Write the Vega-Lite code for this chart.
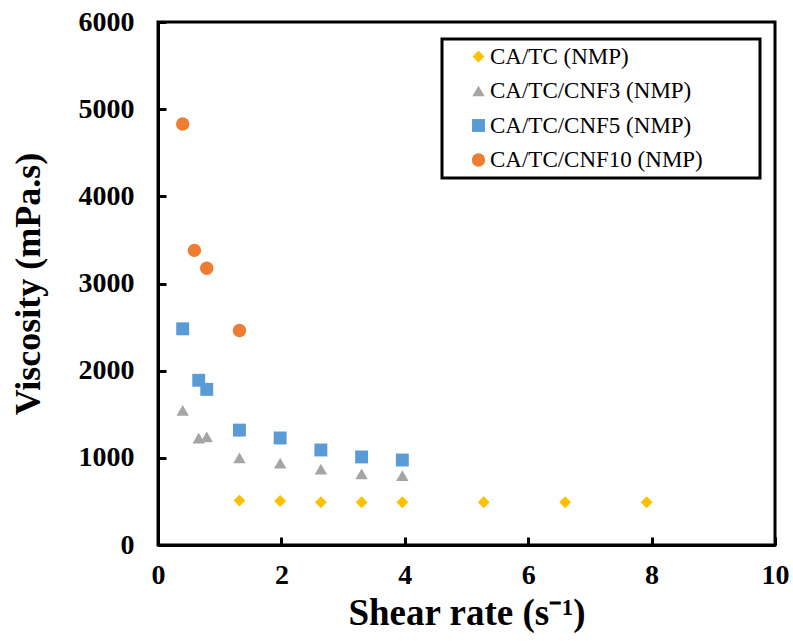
{
  "$schema": "https://vega.github.io/schema/vega-lite/v6.json",
  "width": 617,
  "height": 523,
  "autosize": {"type": "none"},
  "padding": {"left": 158, "top": 22, "right": 18, "bottom": 96},
  "background": "white",
  "config": {
    "view": {"stroke": "black", "strokeWidth": 3},
    "font": "Liberation Serif",
    "legend": {"strokeWidth": 3}
  },
  "data": {
    "values": [
      {"series": "CA/TC (NMP)", "rate": 1.32, "visc": 510},
      {"series": "CA/TC (NMP)", "rate": 1.98, "visc": 505},
      {"series": "CA/TC (NMP)", "rate": 2.64, "visc": 490},
      {"series": "CA/TC (NMP)", "rate": 3.30, "visc": 490},
      {"series": "CA/TC (NMP)", "rate": 3.96, "visc": 490},
      {"series": "CA/TC (NMP)", "rate": 5.28, "visc": 490},
      {"series": "CA/TC (NMP)", "rate": 6.60, "visc": 490},
      {"series": "CA/TC (NMP)", "rate": 7.92, "visc": 490},
      {"series": "CA/TC/CNF3 (NMP)", "rate": 0.40, "visc": 1545},
      {"series": "CA/TC/CNF3 (NMP)", "rate": 0.66, "visc": 1225},
      {"series": "CA/TC/CNF3 (NMP)", "rate": 0.79, "visc": 1240},
      {"series": "CA/TC/CNF3 (NMP)", "rate": 1.32, "visc": 1000},
      {"series": "CA/TC/CNF3 (NMP)", "rate": 1.98, "visc": 940},
      {"series": "CA/TC/CNF3 (NMP)", "rate": 2.64, "visc": 870},
      {"series": "CA/TC/CNF3 (NMP)", "rate": 3.30, "visc": 815},
      {"series": "CA/TC/CNF3 (NMP)", "rate": 3.96, "visc": 795},
      {"series": "CA/TC/CNF5 (NMP)", "rate": 0.40, "visc": 2480},
      {"series": "CA/TC/CNF5 (NMP)", "rate": 0.66, "visc": 1890},
      {"series": "CA/TC/CNF5 (NMP)", "rate": 0.79, "visc": 1785},
      {"series": "CA/TC/CNF5 (NMP)", "rate": 1.32, "visc": 1318},
      {"series": "CA/TC/CNF5 (NMP)", "rate": 1.98, "visc": 1228},
      {"series": "CA/TC/CNF5 (NMP)", "rate": 2.64, "visc": 1090},
      {"series": "CA/TC/CNF5 (NMP)", "rate": 3.30, "visc": 1010},
      {"series": "CA/TC/CNF5 (NMP)", "rate": 3.96, "visc": 975},
      {"series": "CA/TC/CNF10 (NMP)", "rate": 0.40, "visc": 4830},
      {"series": "CA/TC/CNF10 (NMP)", "rate": 0.59, "visc": 3380},
      {"series": "CA/TC/CNF10 (NMP)", "rate": 0.79, "visc": 3175},
      {"series": "CA/TC/CNF10 (NMP)", "rate": 1.32, "visc": 2460}
    ]
  },
  "mark": {"type": "point", "filled": true, "opacity": 1},
  "encoding": {
    "x": {
      "field": "rate", "type": "quantitative",
      "scale": {"domain": [0, 10], "nice": false, "zero": true},
      "axis": {
        "values": [0, 2, 4, 6, 8, 10],
        "title": "Shear rate (s\u207b\u00b9)",
        "grid": false,
        "zindex": 1,
        "labelFlush": false,
        "labelOverlap": false,
        "domainColor": "black", "domainWidth": 3,
        "tickColor": "black", "tickWidth": 3, "tickSize": -8,
        "labelFont": "Liberation Serif", "labelFontWeight": "bold", "labelFontSize": 28, "labelColor": "black",
        "labelPadding": 24,
        "titleFont": "Liberation Serif", "titleFontWeight": "bold", "titleFontSize": 37, "titleColor": "black",
        "titlePadding": 6
      }
    },
    "y": {
      "field": "visc", "type": "quantitative",
      "scale": {"domain": [0, 6000], "nice": false},
      "axis": {
        "values": [0, 1000, 2000, 3000, 4000, 5000, 6000],
        "format": "d",
        "title": "Viscosity (mPa.s)",
        "grid": false,
        "zindex": 1,
        "labelFlush": false,
        "labelOverlap": false,
        "domainColor": "black", "domainWidth": 3,
        "tickColor": "black", "tickWidth": 3, "tickSize": -8,
        "labelFont": "Liberation Serif", "labelFontWeight": "bold", "labelFontSize": 28, "labelColor": "black",
        "labelPadding": 32,
        "titleFont": "Liberation Serif", "titleFontWeight": "bold", "titleFontSize": 36, "titleColor": "black",
        "titlePadding": 31
      }
    },
    "color": {
      "field": "series", "type": "nominal",
      "scale": {
        "domain": ["CA/TC (NMP)", "CA/TC/CNF3 (NMP)", "CA/TC/CNF5 (NMP)", "CA/TC/CNF10 (NMP)"],
        "range": ["#FFC000", "#A5A5A5", "#5B9BD5", "#ED7D31"]
      },
      "legend": {
        "title": null,
        "orient": "none",
        "legendX": 284,
        "legendY": 17,
        "strokeColor": "black",
        "fillColor": "white",
        "padding": 6,
        "symbolOffset": 19,
        "rowPadding": 10.5,
        "labelFont": "Liberation Serif",
        "labelFontSize": 23,
        "labelColor": "black",
        "labelOffset": 0,
        "labelLimit": 500,
        "symbolSize": 130,
        "labelExpr": "datum.label + '\u2800\u2800\u2800'",
        "encode": {"legend": {"update": {"strokeWidth": {"value": 3}}}}
      }
    },
    "shape": {
      "field": "series", "type": "nominal",
      "scale": {
        "domain": ["CA/TC (NMP)", "CA/TC/CNF3 (NMP)", "CA/TC/CNF5 (NMP)", "CA/TC/CNF10 (NMP)"],
        "range": ["diamond", "triangle-up", "square", "circle"]
      }
    },
    "size": {
      "field": "series", "type": "nominal",
      "scale": {
        "domain": ["CA/TC (NMP)", "CA/TC/CNF3 (NMP)", "CA/TC/CNF5 (NMP)", "CA/TC/CNF10 (NMP)"],
        "range": [140, 180, 165, 150]
      },
      "legend": null
    }
  }
}
